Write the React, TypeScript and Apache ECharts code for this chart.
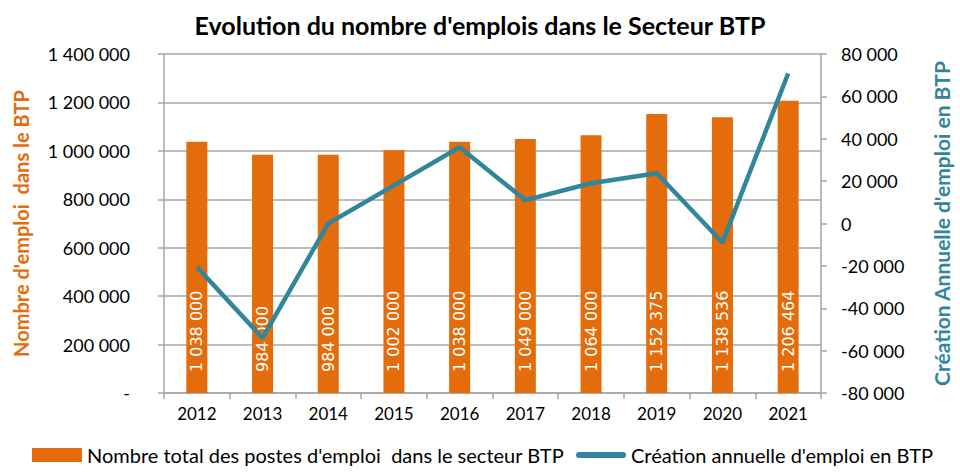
import React, { useEffect, useRef } from "react";
import * as echarts from "echarts";

const categories = ["2012", "2013", "2014", "2015", "2016", "2017", "2018", "2019", "2020", "2021"];
const totalJobs = [1038000, 984000, 984000, 1002000, 1038000, 1049000, 1064000, 1152375, 1138536, 1206464];
const annualCreation = [-20500, -54000, 0, 18000, 36000, 11000, 19000, 23700, -9000, 70800];

const fmt = (v: number) => {
  const s = Math.abs(Math.round(v)).toString().replace(/\B(?=(\d{3})+(?!\d))/g, " ");
  return (v < 0 ? "-" : "") + s;
};

const ORANGE = "#E46C0A";
const TEAL = "#31859C";
const GRID = "#A6A6A6";
const FONT = "Lato";
const BAR_NAME = "Nombre total des postes d'emploi  dans le secteur BTP";
const LINE_NAME = "Création annuelle d'emploi en BTP";

export default function App() {
  const ref = useRef<HTMLDivElement>(null);
  useEffect(() => {
    if (!ref.current) return;
    const chart = echarts.init(ref.current, undefined, { renderer: "svg" });
    chart.setOption({
      animation: false,
      textStyle: { fontFamily: FONT },
      title: {
        text: "Evolution du nombre d'emplois dans le Secteur BTP",
        left: "center",
        top: 7,
        textStyle: { fontFamily: FONT, fontSize: 25, fontWeight: "bold", color: "#000" },
      },
      grid: { left: 164, right: 123, top: 54, bottom: 79, containLabel: false },
      legend: {
        left: 32,
        top: 444,
        padding: 0,
        itemGap: 12,
        itemWidth: 50,
        itemHeight: 14,
        textStyle: { fontFamily: FONT, fontSize: 20, color: "#000", lineHeight: 22 },
        data: [
          { name: BAR_NAME, icon: "rect", itemStyle: { color: ORANGE } },
          {
            name: LINE_NAME,
            icon: "path://M3,0 H47 A3,3 0 0 1 47,6 H3 A3,3 0 0 1 3,0 Z",
            itemStyle: { color: TEAL },
          },
        ],
      },
      xAxis: {
        type: "category",
        data: categories,
        axisLine: { lineStyle: { color: GRID, width: 1.5 } },
        axisTick: { show: true, length: 6, lineStyle: { color: GRID, width: 1.5 } },
        axisLabel: { color: "#000", fontSize: 17, fontFamily: FONT, margin: 12 },
      },
      yAxis: [
        {
          type: "value",
          min: 0,
          max: 1400000,
          interval: 200000,
          name: "Nombre d'emploi  dans le BTP",
          nameLocation: "middle",
          nameGap: 133,
          nameTextStyle: { color: ORANGE, fontWeight: "bold", fontSize: 20, fontFamily: FONT },
          axisLine: { show: true, lineStyle: { color: GRID, width: 1.5 } },
          axisTick: { show: true, length: 6, lineStyle: { color: GRID, width: 1.5 } },
          splitLine: { lineStyle: { color: GRID, width: 1.5 } },
          axisLabel: {
            color: "#000",
            fontSize: 18,
            fontFamily: FONT,
            margin: 34,
            formatter: (v: number) => (v === 0 ? "-" : fmt(v)),
          },
        },
        {
          type: "value",
          min: -80000,
          max: 80000,
          interval: 20000,
          position: "right",
          name: "Création Annuelle d'emploi en BTP",
          nameLocation: "middle",
          nameGap: 110,
          nameRotate: 90,
          nameTextStyle: { color: TEAL, fontWeight: "bold", fontSize: 21, fontFamily: FONT },
          axisLine: { show: true, lineStyle: { color: GRID, width: 1.5 } },
          axisTick: { show: true, length: 6, lineStyle: { color: GRID, width: 1.5 } },
          splitLine: { show: false },
          axisLabel: {
            color: "#000",
            fontSize: 18,
            fontFamily: FONT,
            margin: 20,
            formatter: (v: number) => fmt(v),
          },
        },
      ],
      series: [
        {
          name: BAR_NAME,
          type: "bar",
          data: totalJobs,
          barWidth: 21,
          itemStyle: { color: ORANGE },
          label: {
            show: true,
            position: "insideBottom",
            rotate: 90,
            align: "left",
            verticalAlign: "middle",
            distance: 21,
            color: "#fff",
            fontSize: 16,
            fontFamily: "DejaVu Sans",
            formatter: (p: any) => fmt(p.value),
          },
        },
        {
          name: LINE_NAME,
          type: "line",
          yAxisIndex: 1,
          data: annualCreation,
          symbol: "none",
          lineStyle: { color: TEAL, width: 4.5 },
          itemStyle: { color: TEAL },
        },
      ],
    });
    return () => chart.dispose();
  }, []);
  return <div ref={ref} style={{ width: 960, height: 472, position: "absolute", left: 0, top: 0 }} />;
}
